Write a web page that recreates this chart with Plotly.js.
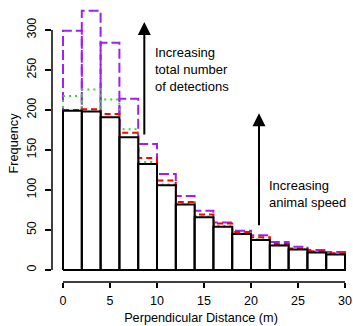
<!DOCTYPE html>
<html>
<head>
<meta charset="utf-8">
<script src="https://cdn.plot.ly/plotly-3.0.1.min.js"></script>
<style>html,body{margin:0;padding:0;background:#fff;}#chart{width:353px;height:326px;}</style>
</head>
<body>
<div id="chart"></div>
<script>
// Bin edges (m)
const binEdges = [0, 2, 4, 6, 8, 10, 12, 14, 16, 18, 20, 22, 24, 26, 28, 30];
// Frequencies per bin
const baseFreq   = [199, 198, 191, 166, 132.5, 106, 82, 66, 54, 45, 37.5, 30.5, 25.5, 22, 19.5];
const redFreq    = [200, 201, 195, 171.5, 140, 112, 85, 69.5, 58, 47.5, 41, 32.5, 27, 23.5, 21];
const greenFreq  = [217.5, 225.5, 213, 176, 135, 107, 83, 67, 55, 46, 38.5, 31.5, 26.5, 22.5, 20.5];
const purpleFreq = [299, 324, 284, 214, 157.5, 120, 92.5, 74, 59.5, 49, 43.5, 35, 29, 25, 22.5];
const xTicks = [0, 5, 10, 15, 20, 25, 30];
const yTicks = [0, 50, 100, 150, 200, 250, 300];

function rects(vals) {
  const x = [], y = [];
  vals.forEach((v, i) => {
    const a = binEdges[i], b = binEdges[i + 1];
    x.push(a, a, b, b, a, null);
    y.push(0, v, v, 0, 0, null);
  });
  return {x, y};
}

function outline(vals, color, dash, width) {
  const r = rects(vals);
  return {type: 'scatter', mode: 'lines', x: r.x, y: r.y, connectgaps: false,
    line: {color: color, dash: dash, width: width}, hoverinfo: 'skip', showlegend: false};
}

const bk = rects(baseFreq);
const traces = [
  outline(purpleFreq, '#A020F0', '10px,4px', 2),
  outline(greenFreq, '#3FD03F', '2px,4px', 2),
  outline(redFreq, '#FF0000', '6px,4px', 2),
  {type: 'scatter', mode: 'lines', x: bk.x, y: bk.y, connectgaps: false, fill: 'toself',
   fillcolor: '#ffffff', line: {color: '#000000', width: 2}, hoverinfo: 'skip', showlegend: false}
];

const fam = 'Liberation Sans, Arial, sans-serif';
const tickFont = {family: fam, size: 12.5, color: '#000'};
const titleFont = {family: fam, size: 12.7, color: '#000'};
const noteFont = {family: fam, size: 13, color: '#000'};

const layout = {
  width: 353, height: 326,
  margin: {l: 52, r: 3, t: 5, b: 44},
  paper_bgcolor: '#fff', plot_bgcolor: '#fff',
  font: tickFont,
  showlegend: false,
  xaxis: {range: [-1.170, 30.532], showgrid: false, zeroline: false, showline: false,
    tickvals: xTicks, ticktext: xTicks.map(String), ticks: 'outside', ticklen: 5, tickwidth: 1.5,
    tickcolor: '#000', tickfont: tickFont, ticklabelstandoff: 2,
    title: {text: 'Perpendicular Distance (m)', font: titleFont, standoff: 6}},
  yaxis: {range: [-15, 331.25], showgrid: false, zeroline: false, showline: false,
    tickvals: yTicks, ticktext: yTicks.map(String), ticks: 'outside', ticklen: 6, tickwidth: 1.5,
    tickcolor: '#000', tickfont: tickFont, tickangle: -90, ticklabelstandoff: 4,
    title: {text: 'Frequency', font: titleFont, standoff: 3}},
  shapes: [
    {type: 'line', xref: 'x', yref: 'paper', x0: xTicks[0], x1: xTicks[xTicks.length - 1], y0: 0, y1: 0,
     line: {color: '#000', width: 1.5}},
    {type: 'line', xref: 'paper', yref: 'y', x0: 0, x1: 0, y0: yTicks[0], y1: yTicks[yTicks.length - 1],
     line: {color: '#000', width: 1.5}}
  ],
  annotations: [
    {x: 8.65, y: 310, ax: 8.65, ay: 167.5, xref: 'x', yref: 'y', axref: 'x', ayref: 'y',
     text: '', showarrow: true, arrowhead: 2, arrowsize: 1.3, arrowwidth: 2, arrowcolor: '#000', standoff: 0},
    {x: 20.85, y: 196, ax: 20.85, ay: 54, xref: 'x', yref: 'y', axref: 'x', ayref: 'y',
     text: '', showarrow: true, arrowhead: 2, arrowsize: 1.3, arrowwidth: 2, arrowcolor: '#000', standoff: 0},
    {x: 9.55, y: 251, xref: 'x', yref: 'y', xanchor: 'left', yanchor: 'middle', align: 'left',
     text: 'Increasing<br>total number<br>of detections', showarrow: false, font: noteFont},
    {x: 21.65, y: 95, xref: 'x', yref: 'y', xanchor: 'left', yanchor: 'middle', align: 'left',
     text: 'Increasing<br>animal speed', showarrow: false, font: noteFont}
  ]
};

Plotly.newPlot('chart', traces, layout, {displayModeBar: false, staticPlot: true});
</script>
</body>
</html>
